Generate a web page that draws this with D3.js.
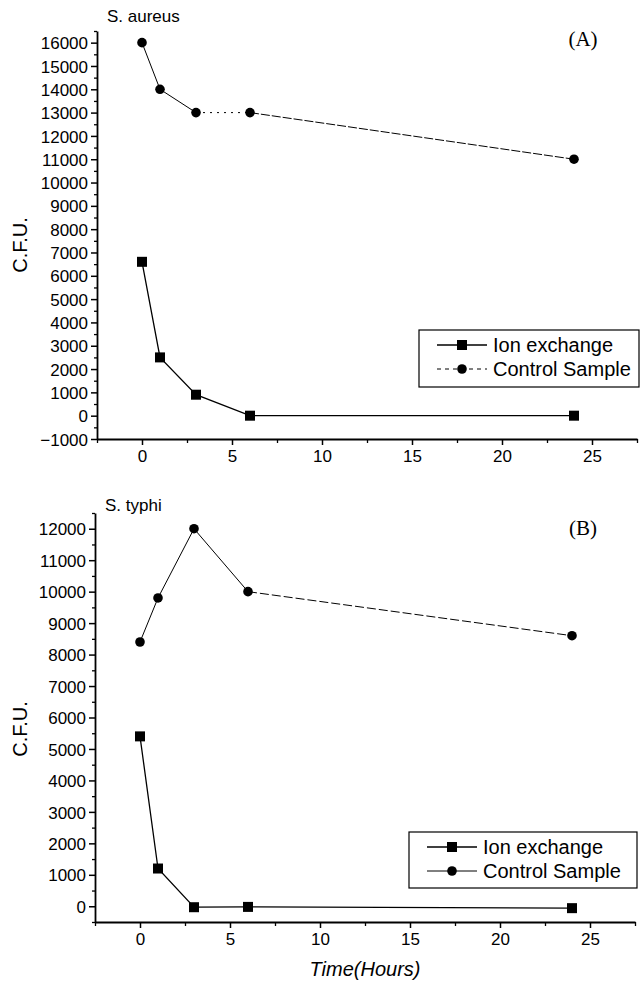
<!DOCTYPE html>
<html>
<head>
<meta charset="utf-8">
<script src="https://cdn.jsdelivr.net/npm/d3@7"></script>
<style>
  body { margin: 0; background: #fff; }
  svg { display: block; }
  text { font-family: "Liberation Sans", Arial, sans-serif; fill: #000; }
  .axis path, .axis line { stroke: #000; }
</style>
</head>
<body>
<div id="canvas"></div>
<script>
// time points (hours)
const hours = [0, 1, 3, 6, 24];

// panel A - S. aureus
const aureusIon = [6600, 2500, 900, 0, 0];
const aureusControl = [16000, 14000, 13000, 13000, 11000];

// panel B - S. typhi
const typhiIon = [5400, 1200, -30, -20, -60];
const typhiControl = [8400, 9800, 12000, 10000, 8600];

const xTicks = [0, 5, 10, 15, 20, 25];
const seriesNames = ["Ion exchange", "Control Sample"];

const width = 644;
const height = 987;

const svg = d3.select("#canvas").append("svg")
  .attr("width", width)
  .attr("height", height);

const panels = [
  {
    title: "S. aureus", tag: "(A)",
    ion: aureusIon, control: aureusControl,
    yDomain: [-1000, 16500], yMajor: d3.range(-1000, 16001, 1000),
    left: 97, right: 637, top: 31, bottom: 439,
    controlDash: [null, null, "2,5", "9,2"],
    legend: { x: 419, y: 330, w: 220, h: 57, dash: "4,4" },
    titleY: 22, tagY: 46, labelY: 245
  },
  {
    title: "S. typhi", tag: "(B)",
    ion: typhiIon, control: typhiControl,
    yDomain: [-500, 12500], yMajor: d3.range(0, 12001, 1000),
    left: 95, right: 635, top: 513, bottom: 922,
    controlDash: [null, null, null, "9,3"],
    legend: { x: 409, y: 832, w: 228, h: 56, dash: null },
    titleY: 511, tagY: 535, labelY: 729
  }
];

panels.forEach(p => {
  const x = d3.scaleLinear().domain([-2.5, 27.5]).range([p.left, p.right]);
  const y = d3.scaleLinear().domain(p.yDomain).range([p.bottom, p.top]);
  const g = svg.append("g");

  // minor ticks
  const yMinor = d3.range(p.yDomain[0], p.yDomain[1] + 1, 500)
    .filter(v => !p.yMajor.includes(v));
  g.append("g").attr("class", "axis")
    .attr("transform", `translate(${p.left},0)`)
    .call(d3.axisLeft(y).tickValues(yMinor).tickSize(3).tickFormat(""))
    .call(a => a.select(".domain").remove())
    .selectAll("line").attr("stroke-width", 1.3);
  g.append("g").attr("class", "axis")
    .attr("transform", `translate(0,${p.bottom})`)
    .call(d3.axisBottom(x).tickValues([-2.5, 2.5, 7.5, 12.5, 17.5, 22.5, 27.5]).tickSize(4).tickFormat(""))
    .call(a => a.select(".domain").remove())
    .selectAll("line").attr("stroke-width", 1.3);

  // major axes
  const yAxis = g.append("g").attr("class", "axis")
    .attr("transform", `translate(${p.left},0)`)
    .call(d3.axisLeft(y).tickValues(p.yMajor).tickFormat(d3.format("d"))
      .tickSize(6).tickSizeOuter(0).tickPadding(3));
  yAxis.select(".domain").attr("stroke-width", 1.8);
  yAxis.selectAll("line").attr("stroke-width", 1.5);
  yAxis.selectAll("text").style("font-size", "17px").attr("dy", "0.36em");

  const xAxis = g.append("g").attr("class", "axis")
    .attr("transform", `translate(0,${p.bottom})`)
    .call(d3.axisBottom(x).tickValues(xTicks).tickSize(6).tickSizeOuter(0).tickPadding(5));
  xAxis.select(".domain").attr("stroke-width", 1.8);
  xAxis.selectAll("line").attr("stroke-width", 1.5);
  xAxis.selectAll("text").style("font-size", "17px");

  // control sample line, segment by segment
  const ctrl = hours.map((h, i) => [h, p.control[i]]);
  d3.pairs(ctrl).forEach((seg, i) => {
    g.append("path")
      .attr("d", d3.line().x(d => x(d[0])).y(d => y(d[1]))(seg))
      .attr("fill", "none")
      .attr("stroke", "#000")
      .attr("stroke-width", 1)
      .attr("stroke-dasharray", p.controlDash[i]);
  });

  // ion exchange line
  const ion = hours.map((h, i) => [h, p.ion[i]]);
  g.append("path")
    .attr("d", d3.line().x(d => x(d[0])).y(d => y(d[1]))(ion))
    .attr("fill", "none")
    .attr("stroke", "#000")
    .attr("stroke-width", 1.3);

  g.selectAll(".sq").data(ion).enter().append("rect")
    .attr("x", d => x(d[0]) - 5)
    .attr("y", d => y(d[1]) - 5)
    .attr("width", 10).attr("height", 10)
    .attr("fill", "#000");

  g.selectAll(".dot").data(ctrl).enter().append("circle")
    .attr("cx", d => x(d[0]))
    .attr("cy", d => y(d[1]))
    .attr("r", 4.8)
    .attr("fill", "#000");

  // texts
  g.append("text").attr("x", p.left + 10).attr("y", p.titleY)
    .style("font-size", "17px").text(p.title);
  g.append("text").attr("x", 583).attr("y", p.tagY)
    .attr("text-anchor", "middle")
    .style("font-family", "'Liberation Serif', 'Times New Roman', serif")
    .style("font-size", "21px").text(p.tag);
  g.append("text")
    .attr("transform", `translate(27,${p.labelY}) rotate(-90)`)
    .attr("text-anchor", "middle")
    .style("font-size", "20px").text("C.F.U.");

  // legend
  const L = p.legend;
  const lg = g.append("g").attr("transform", `translate(${L.x},${L.y})`);
  lg.append("rect").attr("width", L.w).attr("height", L.h)
    .attr("fill", "#fff").attr("stroke", "#000").attr("stroke-width", 1.2);
  seriesNames.forEach((name, i) => {
    const cy = 15 + i * 24;
    lg.append("line").attr("x1", 18).attr("x2", 68).attr("y1", cy).attr("y2", cy)
      .attr("stroke", "#000").attr("stroke-width", i === 0 ? 1.5 : 1)
      .attr("stroke-dasharray", i === 1 ? L.dash : null);
    if (i === 0) {
      lg.append("rect").attr("x", 38).attr("y", cy - 5).attr("width", 10).attr("height", 10).attr("fill", "#000");
    } else {
      lg.append("circle").attr("cx", 43).attr("cy", cy).attr("r", 4.8).attr("fill", "#000");
    }
    lg.append("text").attr("x", 74).attr("y", cy + 7)
      .style("font-size", "20px").text(name);
  });
});

svg.append("text")
  .attr("x", 365).attr("y", 976)
  .attr("text-anchor", "middle")
  .style("font-size", "20px").style("font-style", "italic")
  .text("Time(Hours)");
</script>
</body>
</html>
